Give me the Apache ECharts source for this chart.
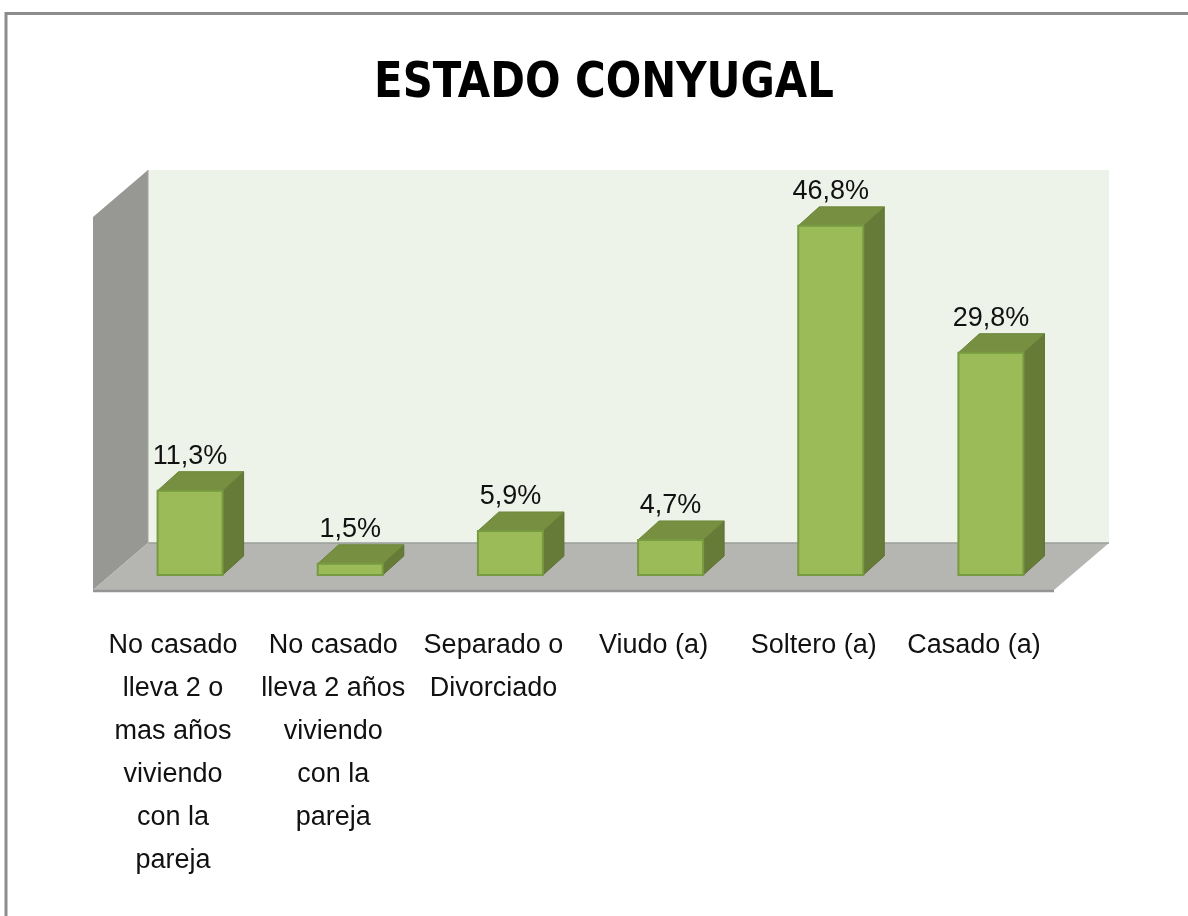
<!DOCTYPE html>
<html>
<head>
<meta charset="utf-8" />
<title>Estado conyugal</title>
<script src="https://cdn.jsdelivr.net/npm/echarts@6/dist/echarts.min.js"></script>
<style type="text/css">
	html,body{margin:0;padding:0;background:#fff;}
	#main{width:1188px;height:916px;}
</style>
</head>
<body>
<div id="main"></div>
<script type="text/javascript">
// datos del grafico
var categorias = [
	'No casado\nlleva 2 o\nmas años\nviviendo\ncon la\npareja',
	'No casado\nlleva 2 años\nviviendo\ncon la\npareja',
	'Separado o\nDivorciado',
	'Viudo (a)',
	'Soltero (a)',
	'Casado (a)'
];
var porcentajes = [11.3, 1.5, 5.9, 4.7, 46.8, 29.8];
var etiquetas = ['11,3%', '1,5%', '5,9%', '4,7%', '46,8%', '29,8%'];
var titulo = 'ESTADO CONYUGAL';

// desplazamientos de la perspectiva (pixeles)
var BACK_DX = 38, BACK_DY = -32;   // plano frontal de barras -> pared del fondo
var FRONT_DX = -17, FRONT_DY = 15; // plano frontal de barras -> borde del piso
var BAR_DX = 21, BAR_DY = -19;     // profundidad de cada barra

var myChart = echarts.init(document.getElementById('main'));

// paredes y piso, a partir del rectangulo del grid
function renderEscena(params, api) {
	var cs = params.coordSys;
	var x0 = cs.x, x1 = cs.x + cs.width, yt = cs.y, yb = cs.y + cs.height;
	return {
		type: 'group',
		children: [
			{ // pared del fondo
				type: 'polygon',
				shape: { points: [[x0 + BACK_DX, yt + BACK_DY], [x1 + BACK_DX, yt + BACK_DY], [x1 + BACK_DX, yb + BACK_DY], [x0 + BACK_DX, yb + BACK_DY]] },
				style: { fill: '#EEF3EA' }
			},
			{ // pared izquierda
				type: 'polygon',
				shape: { points: [[x0 + FRONT_DX, yt + FRONT_DY], [x0 + BACK_DX, yt + BACK_DY], [x0 + BACK_DX, yb + BACK_DY], [x0 + FRONT_DX, yb + FRONT_DY]] },
				style: { fill: '#979894' }
			},
			{ // piso
				type: 'polygon',
				shape: { points: [[x0 + FRONT_DX, yb + FRONT_DY], [x0 + BACK_DX, yb + BACK_DY], [x1 + BACK_DX, yb + BACK_DY], [x1 + FRONT_DX, yb + FRONT_DY]] },
				style: { fill: '#B5B6B2' }
			},
			{
				type: 'line',
				shape: { x1: x0 + BACK_DX, y1: yb + BACK_DY, x2: x1 + BACK_DX, y2: yb + BACK_DY },
				style: { stroke: '#9d9e9a', lineWidth: 1.5 }
			},
			{
				type: 'line',
				shape: { x1: x0 + BACK_DX, y1: yt + BACK_DY, x2: x0 + BACK_DX, y2: yb + BACK_DY },
				style: { stroke: '#a3a4a0', lineWidth: 1 }
			},
			{ // canto frontal del piso
				type: 'line',
				shape: { x1: x0 + FRONT_DX, y1: yb + FRONT_DY + 1, x2: x1 + FRONT_DX, y2: yb + FRONT_DY + 1 },
				style: { stroke: '#959595', lineWidth: 2.5 }
			}
		]
	};
}

// barras 3D
function renderBarra(params, api) {
	var idx = api.value(0);
	var v = api.value(1);
	var top = api.coord([idx, v]);
	var base = api.coord([idx, 0]);
	var bw = api.size([1, 0])[0] * 0.406;
	var xl = top[0] - bw / 2, xr = top[0] + bw / 2;
	return {
		type: 'group',
		children: [
			{
				type: 'polygon',
				shape: { points: [[xr, top[1]], [xr + BAR_DX, top[1] + BAR_DY], [xr + BAR_DX, base[1] + BAR_DY], [xr, base[1]]] },
				style: { fill: '#657B37', stroke: '#5d7233', lineWidth: 1 }
			},
			{
				type: 'polygon',
				shape: { points: [[xl, top[1]], [xl + BAR_DX, top[1] + BAR_DY], [xr + BAR_DX, top[1] + BAR_DY], [xr, top[1]]] },
				style: { fill: '#778F40', stroke: '#6c8639', lineWidth: 1 }
			},
			{
				type: 'rect',
				shape: { x: xl, y: top[1], width: bw, height: base[1] - top[1] },
				style: { fill: '#9BBB59', stroke: '#789A40', lineWidth: 2 }
			},
			{
				type: 'text',
				x: top[0],
				y: top[1] - 21,
				style: {
					text: etiquetas[idx],
					fill: '#111',
					font: '27px "Liberation Sans", Arial, sans-serif',
					align: 'center',
					verticalAlign: 'bottom'
				}
			}
		]
	};
}

var datos = porcentajes.map(function (v, i) { return [i, v]; });

var option = {
	animation: false,
	backgroundColor: '#fff',
	graphic: [{
		type: 'polyline',
		shape: { points: [[6, 916], [6, 13.5], [1188, 13.5]] },
		style: { stroke: '#8c8c8c', lineWidth: 3, fill: null }
	}, {
		// titulo angosto (fuente condensada escalada)
		type: 'text',
		x: 604,
		y: 84,
		scaleX: 0.93,
		style: {
			text: titulo,
			fill: '#000',
			font: 'bold 50px "DejaVu Sans Condensed", "Liberation Sans", sans-serif',
			align: 'center',
			verticalAlign: 'middle'
		}
	}],
	grid: { left: 110, right: 117, top: 202, bottom: 341 },
	xAxis: {
		type: 'category',
		data: categorias,
		axisLine: { show: false },
		axisTick: { show: false },
		axisLabel: {
			interval: 0,
			margin: 49,
			color: '#111',
			fontFamily: '"Liberation Sans", Arial, sans-serif',
			fontSize: 27,
			lineHeight: 43,
			padding: [0, 34, 0, 0]
		}
	},
	yAxis: {
		type: 'value',
		min: 0,
		max: 50,
		show: false
	},
	series: [{
		type: 'custom',
		name: 'escena',
		renderItem: renderEscena,
		data: [[0, 0]],
		z: 1,
		silent: true
	}, {
		type: 'custom',
		name: 'Estado conyugal',
		renderItem: renderBarra,
		encode: { x: 0, y: 1 },
		data: datos,
		z: 2
	}]
};
myChart.setOption(option);
</script>
</body>
</html>
